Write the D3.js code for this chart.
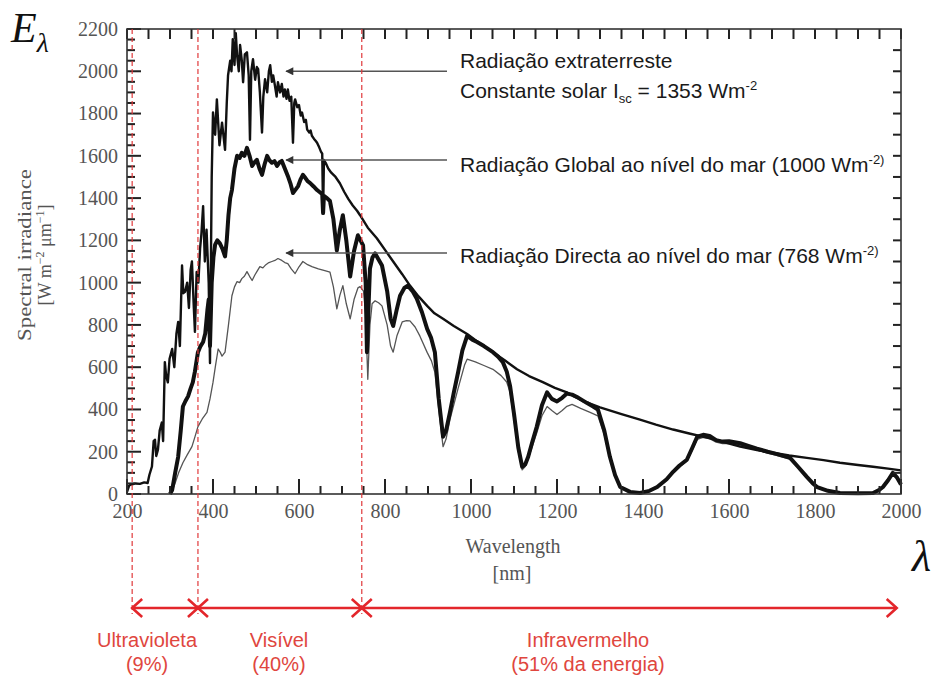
<!DOCTYPE html>
<html lang="pt">
<head>
  <meta charset="UTF-8">
  <title>Espectro da radiação solar</title>
  <script src="https://d3js.org/d3.v7.min.js"></script>
  <style>
    body { margin: 0; background: #fff; }
    svg { display: block; }
  </style>
</head>
<body>
<svg id="chart" width="935" height="682"></svg>
<script>
  // [wavelength nm, irradiance W m-2 um-1]
  const extraterrestre = [
    [200, 10], [205, 40], [210, 45], [220, 50], [230, 48], [240, 55], [248, 52], [252, 90], [258, 130],
    [262, 250], [265, 257], [268, 180], [272, 210], [276, 300], [281, 338], [284, 250], [288, 624],
    [291, 560], [295, 528], [299, 640], [305, 686], [310, 600], [315, 760], [319, 814], [323, 700],
    [328, 1081], [331, 950], [335, 957], [340, 1000], [344, 880], [348, 1060], [351, 1100], [355, 900],
    [358, 767], [362, 1050], [366, 1000], [370, 1162], [373, 1230], [377, 1362], [381, 1100], [385, 1250],
    [390, 1000], [393, 620], [397, 1500], [400, 1805], [405, 1700], [409, 1867], [415, 1650], [421, 1757],
    [428, 1628], [432, 1850], [435, 1981], [440, 2050], [443, 2000], [446, 2152], [450, 2030], [453, 2180],
    [456, 2076], [460, 2000], [463, 2124], [467, 2050], [470, 1948], [474, 2080], [479, 2090], [483, 1980],
    [486, 1676], [489, 2000], [493, 2057], [498, 1960], [502, 2020], [505, 2010], [509, 1900], [514, 1710],
    [517, 1880], [521, 1962], [526, 1900], [530, 2000], [533, 2029], [537, 1950], [540, 1980], [544, 1933],
    [548, 1880], [551, 1948], [556, 1900], [560, 1940], [564, 1880], [567, 1914], [571, 1870], [574, 1914],
    [578, 1860], [582, 1880], [586, 1662], [589, 1850], [591, 1867], [596, 1830], [600, 1840], [604, 1790],
    [607, 1805], [612, 1760], [616, 1770], [619, 1724], [624, 1710], [627, 1720], [630, 1695], [635, 1680],
    [639, 1670], [642, 1662], [647, 1640], [651, 1620], [654, 1610], [656, 1329], [658, 1580], [662, 1567],
    [668, 1540], [675, 1520], [685, 1500], [695, 1470], [705, 1430], [715, 1395], [725, 1365], [735, 1340],
    [742, 1319], [760, 1260], [781, 1210], [800, 1155], [819, 1100], [840, 1040], [858, 986], [878, 935],
    [898, 890], [915, 855], [935, 829], [960, 795], [991, 757], [1020, 713], [1051, 671], [1080, 630],
    [1107, 590], [1135, 558], [1167, 529], [1195, 502], [1223, 481], [1260, 440], [1300, 410], [1350, 378],
    [1393, 352], [1430, 328], [1470, 305], [1510, 285], [1549, 267], [1590, 245], [1626, 224], [1665, 208],
    [1702, 195], [1740, 182], [1781, 171], [1820, 160], [1858, 148], [1900, 137], [1935, 129], [1970, 120],
    [2000, 112]
  ];

  const globalMar = [
    [300, 0], [305, 19], [312, 100], [319, 176], [325, 300], [330, 414], [336, 440], [342, 462], [348, 500],
    [353, 528], [358, 580], [365, 671], [371, 700], [377, 719], [382, 760], [387, 870], [390, 920], [393, 700],
    [397, 1000], [401, 1120], [405, 1180], [410, 1200], [416, 1186], [422, 1160], [428, 1124], [432, 1200],
    [436, 1320], [440, 1400], [444, 1438], [450, 1540], [456, 1600], [462, 1590], [467, 1614], [473, 1600],
    [479, 1638], [485, 1600], [491, 1552], [497, 1570], [502, 1581], [508, 1540], [514, 1510], [520, 1560],
    [526, 1600], [531, 1580], [537, 1567], [543, 1575], [549, 1552], [555, 1570], [560, 1576], [567, 1540],
    [574, 1505], [580, 1470], [586, 1424], [592, 1440], [598, 1457], [604, 1490], [609, 1510], [615, 1495],
    [620, 1480], [626, 1471], [634, 1455], [642, 1438], [650, 1425], [654, 1420], [656, 1329], [658, 1410],
    [665, 1400], [672, 1386], [680, 1300], [688, 1152], [695, 1250], [702, 1319], [710, 1200], [719, 1029],
    [728, 1150], [737, 1224], [749, 1176], [755, 1000], [758, 671], [762, 900], [765, 1067], [771, 1120],
    [777, 1138], [785, 1110], [793, 1081], [805, 960], [813, 830], [819, 795], [827, 870], [835, 938],
    [845, 975], [853, 986], [864, 960], [874, 924], [886, 860], [898, 781], [907, 740], [916, 671], [925, 450],
    [935, 271], [942, 300], [951, 386], [960, 480], [970, 576], [980, 680], [991, 748], [1003, 730],
    [1014, 719], [1030, 700], [1051, 671], [1063, 650], [1074, 624], [1083, 580], [1091, 510], [1100, 380],
    [1110, 220], [1119, 129], [1126, 140], [1133, 176], [1143, 250], [1153, 319], [1165, 420], [1177, 481],
    [1188, 450], [1200, 438], [1212, 455], [1223, 475], [1235, 470], [1250, 455], [1270, 430], [1284, 414],
    [1295, 400], [1310, 300], [1323, 176], [1335, 90], [1347, 33], [1370, 10], [1393, 5], [1415, 15],
    [1433, 33], [1455, 70], [1470, 105], [1485, 135], [1502, 162], [1515, 220], [1526, 271], [1540, 280],
    [1555, 275], [1570, 255], [1585, 248], [1600, 250], [1626, 240], [1645, 228], [1665, 215], [1690, 200],
    [1710, 190], [1742, 171], [1760, 130], [1781, 81], [1795, 50], [1805, 33], [1830, 15], [1858, 5],
    [1900, 3], [1935, 5], [1950, 20], [1958, 33], [1970, 65], [1981, 100], [1990, 80], [2000, 45]
  ];

  const directaMar = [
    [300, 0], [306, 20], [312, 52], [320, 100], [330, 148], [340, 185], [351, 224], [358, 270], [365, 319],
    [375, 355], [386, 386], [393, 450], [400, 528], [406, 610], [412, 686], [417, 670], [421, 652], [428, 671],
    [436, 800], [444, 938], [450, 980], [456, 1005], [462, 1000], [467, 1019], [473, 1030], [479, 1052],
    [485, 1030], [491, 1010], [497, 1035], [502, 1052], [509, 1076], [516, 1070], [523, 1085], [530, 1095],
    [537, 1100], [544, 1105], [551, 1114], [560, 1105], [567, 1095], [574, 1090], [582, 1065], [591, 1043],
    [600, 1075], [609, 1100], [620, 1085], [630, 1076], [645, 1065], [660, 1057], [672, 1050], [680, 980],
    [688, 876], [695, 940], [702, 986], [710, 900], [719, 829], [728, 920], [737, 975], [742, 981], [750, 960],
    [755, 850], [760, 543], [765, 800], [770, 900], [777, 914], [785, 905], [793, 890], [805, 800], [813, 700],
    [819, 671], [828, 750], [840, 814], [850, 820], [858, 819], [870, 790], [881, 748], [898, 670], [908, 630],
    [916, 576], [925, 400], [935, 224], [942, 260], [951, 352], [970, 500], [985, 610], [991, 638], [1010, 625],
    [1030, 608], [1051, 590], [1070, 560], [1083, 530], [1091, 481], [1100, 350], [1110, 200], [1119, 114],
    [1126, 130], [1135, 180], [1153, 290], [1165, 370], [1177, 414], [1188, 395], [1200, 376], [1212, 395],
    [1223, 415], [1235, 424], [1255, 405], [1277, 386], [1295, 370], [1310, 280], [1323, 165], [1335, 85],
    [1347, 30], [1370, 8], [1393, 3], [1415, 12], [1433, 30], [1455, 65], [1470, 98], [1485, 128], [1502, 155],
    [1515, 210], [1526, 258], [1540, 268], [1555, 262], [1570, 245], [1585, 238], [1600, 240], [1626, 231],
    [1645, 220], [1665, 208], [1690, 193], [1710, 183], [1742, 165], [1760, 125], [1781, 76], [1795, 46],
    [1805, 30], [1830, 13], [1858, 4], [1900, 2], [1935, 4], [1950, 17], [1958, 30], [1970, 60], [1981, 92],
    [1990, 74], [2000, 40]
  ];

  const xTicks = d3.range(200, 2001, 200);
  const yTicks = d3.range(0, 2201, 200);
  const xMinor = d3.range(250, 2000, 50).filter(v => v % 200);
  const yMinor = d3.range(50, 2200, 50).filter(v => v % 200);
  const yRight = d3.range(100, 2200, 100);

  // band limits (nm) and labels
  const bandLimits = [212, 365, 746];
  const bands = [
    { name: "Ultravioleta", share: "(9%)", from: 212, to: 365 },
    { name: "Visível", share: "(40%)", from: 365, to: 746 },
    { name: "Infravermelho", share: "(51% da energia)", from: 746, to: 1990 }
  ];

  const svg = d3.select("#chart");
  const margin = { top: 29, right: 34, bottom: 188, left: 127 };
  const W = 935, H = 682;

  const x = d3.scaleLinear().domain([200, 2000]).range([margin.left, W - margin.right]);
  const y = d3.scaleLinear().domain([0, 2200]).range([H - margin.bottom, margin.top]);
  const x0 = x.range()[0], x1 = x.range()[1], yb = y.range()[0], yt = y.range()[1];

  // curves
  const line = d3.line().x(d => x(d[0])).y(d => y(d[1]));
  svg.append("path").datum(directaMar).attr("d", line)
    .attr("fill", "none").attr("stroke", "#555").attr("stroke-width", 1.3).attr("stroke-linejoin", "round");
  svg.append("path").datum(extraterrestre).attr("d", line)
    .attr("fill", "none").attr("stroke", "#111").attr("stroke-width", 2.4).attr("stroke-linejoin", "round");
  svg.append("path").datum(globalMar).attr("d", line)
    .attr("fill", "none").attr("stroke", "#111").attr("stroke-width", 4).attr("stroke-linejoin", "round");

  // inward ticks on all four sides, drawn as thin filled bars
  const tw = 2;
  const vBar = (vals, yy, len) => vals.forEach(v => svg.append("rect")
    .attr("x", x(v) - tw / 2).attr("y", len < 0 ? yy + len : yy).attr("width", tw).attr("height", Math.abs(len))
    .attr("fill", "#222"));
  const hBar = (vals, xx, len) => vals.forEach(v => svg.append("rect")
    .attr("y", y(v) - tw / 2).attr("x", len < 0 ? xx + len : xx).attr("height", tw).attr("width", Math.abs(len))
    .attr("fill", "#222"));
  vBar(xTicks, yb, -15);
  vBar(xMinor, yb, -8);
  vBar(xTicks.concat(xMinor), yt, 10);
  hBar(yTicks, x0, 14);
  hBar(yMinor, x0, 8);
  hBar(yRight, x1, -8);

  // tick labels through d3 axes
  const fmt = d3.format("d");
  const serif = "'Liberation Serif', 'Times New Roman', serif";
  svg.append("g").attr("transform", `translate(0,${yb})`)
    .call(d3.axisBottom(x).tickValues(xTicks).tickSize(0).tickPadding(10).tickFormat(fmt));
  svg.append("g").attr("transform", `translate(${x0},0)`)
    .call(d3.axisLeft(y).tickValues(yTicks).tickSize(0).tickPadding(9).tickFormat(fmt));
  svg.selectAll(".domain").remove();
  svg.selectAll(".tick text").attr("font-family", serif).attr("font-size", 20).attr("fill", "#555");

  svg.append("rect").attr("x", x0).attr("y", yt).attr("width", x1 - x0).attr("height", yb - yt)
    .attr("fill", "none").attr("stroke", "#333").attr("stroke-width", 1.6);

  // axis titles
  const yMid = 255;
  svg.append("text").attr("transform", `translate(31,${yMid}) rotate(-90)`)
    .attr("text-anchor", "middle").attr("font-family", serif).attr("font-size", 18).attr("fill", "#555")
    .attr("textLength", 172).attr("lengthAdjust", "spacingAndGlyphs")
    .text("Spectral irradiance");
  const yl2 = svg.append("text").attr("transform", `translate(51,${yMid}) rotate(-90)`)
    .attr("text-anchor", "middle").attr("font-family", serif).attr("font-size", 18).attr("fill", "#555");
  yl2.append("tspan").text("[W m");
  yl2.append("tspan").attr("font-size", 12).attr("dy", -7).text("−2");
  yl2.append("tspan").attr("dy", 7).text(" μm");
  yl2.append("tspan").attr("font-size", 12).attr("dy", -7).text("−1");
  yl2.append("tspan").attr("dy", 7).text("]");

  svg.append("text").attr("x", 513).attr("y", 553).attr("text-anchor", "middle")
    .attr("font-family", serif).attr("font-size", 20).attr("fill", "#555").text("Wavelength");
  svg.append("text").attr("x", 512).attr("y", 580).attr("text-anchor", "middle")
    .attr("font-family", serif).attr("font-size", 20).attr("fill", "#555").text("[nm]");

  // E_lambda and lambda symbols
  const E = svg.append("text").attr("x", 11).attr("y", 42).attr("font-family", serif)
    .attr("font-style", "italic").attr("font-size", 42).attr("fill", "#111");
  E.append("tspan").text("E");
  E.append("tspan").attr("font-size", 28).attr("dy", 10).text("λ");
  svg.append("text").attr("x", 912).attr("y", 571).attr("font-family", serif)
    .attr("font-style", "italic").attr("font-size", 44).attr("fill", "#111").text("λ");

  // annotations with arrows
  const sans = "'Liberation Sans', Arial, sans-serif";
  svg.append("defs").append("marker").attr("id", "ah").attr("viewBox", "0 0 10 10")
    .attr("refX", 9).attr("refY", 5).attr("markerWidth", 10).attr("markerHeight", 8)
    .attr("markerUnits", "userSpaceOnUse").attr("orient", "auto")
    .append("path").attr("d", "M0,0 L10,5 L0,10 Z").attr("fill", "#333");

  const arrowYs = [2000, 1580, 1140];
  arrowYs.forEach(v => {
    svg.append("line").attr("x1", 447).attr("x2", x(570)).attr("y1", y(v)).attr("y2", y(v))
      .attr("stroke", "#555").attr("stroke-width", 1.5).attr("marker-end", "url(#ah)");
  });

  const ann = (yy) => svg.append("text").attr("x", 460).attr("y", yy)
    .attr("font-family", sans).attr("font-size", 21).attr("fill", "#1a1a1a");
  ann(68).text("Radiação extraterreste");
  const a2 = ann(98);
  a2.append("tspan").text("Constante solar  I");
  a2.append("tspan").attr("font-size", 13).attr("dy", 5).text("sc");
  a2.append("tspan").attr("dy", -5).text(" = 1353 Wm");
  a2.append("tspan").attr("font-size", 13).attr("dy", -8).text("-2");
  const a3 = ann(172);
  a3.append("tspan").text("Radiação Global ao nível do mar (1000 Wm");
  a3.append("tspan").attr("font-size", 13).attr("dy", -8).text("-2)");
  const a4 = ann(263);
  a4.append("tspan").text("Radiação Directa ao nível do mar (768 Wm");
  a4.append("tspan").attr("font-size", 13).attr("dy", -8).text("-2)");

  // band limits and double arrows
  const red = "#e3262b";
  const ya = 608;
  bandLimits.forEach(v => {
    svg.append("line").attr("x1", x(v)).attr("x2", x(v)).attr("y1", yt).attr("y2", ya + 6)
      .attr("stroke", "#e0393b").attr("stroke-width", 1.2).attr("stroke-dasharray", "5,3");
  });
  bands.forEach(b => {
    const xa = x(b.from), xb = x(b.to);
    svg.append("line").attr("x1", xa).attr("x2", xb).attr("y1", ya).attr("y2", ya)
      .attr("stroke", red).attr("stroke-width", 2.6);
    svg.append("path").attr("d", `M${xa + 10},${ya - 9} L${xa},${ya} L${xa + 10},${ya + 9}`)
      .attr("fill", "none").attr("stroke", red).attr("stroke-width", 2.6);
    svg.append("path").attr("d", `M${xb - 10},${ya - 9} L${xb},${ya} L${xb - 10},${ya + 9}`)
      .attr("fill", "none").attr("stroke", red).attr("stroke-width", 2.6);
  });
  const labelX = [147, 279, 588];
  bands.forEach((b, i) => {
    svg.append("text").attr("x", labelX[i]).attr("y", 647).attr("text-anchor", "middle")
      .attr("font-family", sans).attr("font-size", 20).attr("fill", "#e0463e").text(b.name);
    svg.append("text").attr("x", labelX[i]).attr("y", 671).attr("text-anchor", "middle")
      .attr("font-family", sans).attr("font-size", 20).attr("fill", "#e0463e").text(b.share);
  });
</script>
</body>
</html>
